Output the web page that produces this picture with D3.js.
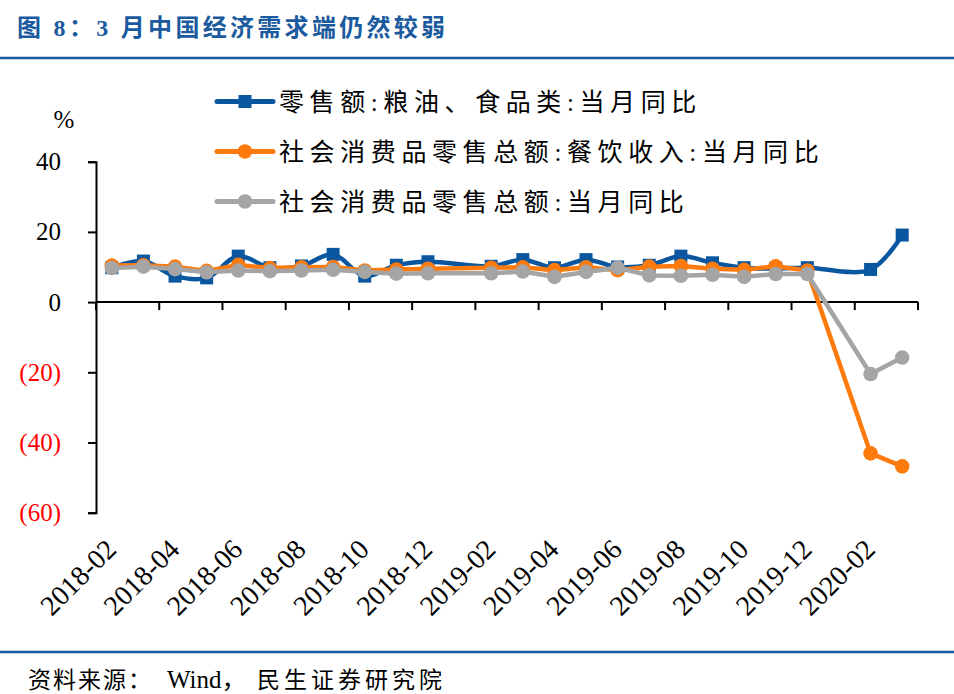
<!DOCTYPE html>
<html>
<head>
<meta charset="utf-8">
<script src="https://cdn.jsdelivr.net/npm/d3@7/dist/d3.min.js"></script>
<style>
  body { margin: 0; background: #fff; }
  svg text { font-family: "Liberation Serif", "Noto Sans CJK SC", serif; }
</style>
</head>
<body>
<svg id="chart" width="954" height="694"></svg>
<script>
var months = [
  "2018-02","2018-03","2018-04","2018-05","2018-06","2018-07","2018-08","2018-09","2018-10","2018-11","2018-12",
  "2019-01","2019-02","2019-03","2019-04","2019-05","2019-06","2019-07","2019-08","2019-09","2019-10","2019-11","2019-12",
  "2020-01","2020-02","2020-03"
];
// January is folded into February in the source, so it has no value
var grainFood   = [9.8, 11.7, 7.4, 6.9, 13.1, 9.8, 10.3, 13.6, 7.4, 10.5, 11.5, null, 10.2, 12.1, 9.8, 12.1, 10.0, 10.5, 13.1, 11.2, 9.8, 9.6, 9.8, null, 9.3, 19.1];
var catering    = [10.4, 10.5, 10.1, 8.9, 10.6, 9.7, 9.9, 10.0, 9.0, 9.3, 9.5, null, 9.8, 9.9, 9.1, 9.9, 9.1, 10.1, 10.3, 9.5, 9.2, 10.2, 9.0, null, -43.1, -46.8];
var retailTotal = [9.7, 10.1, 9.4, 8.5, 9.0, 8.8, 9.0, 9.2, 8.6, 8.1, 8.2, null, 8.2, 8.7, 7.2, 8.6, 9.8, 7.6, 7.5, 7.8, 7.2, 8.0, 8.0, null, -20.5, -15.8];
var yTicks = [-60, -40, -20, 0, 20, 40];
var seriesNames = ["零售额:粮油、食品类:当月同比", "社会消费品零售总额:餐饮收入:当月同比", "社会消费品零售总额:当月同比"];

var blue = "#0a57a0", orange = "#fd7a0c", grey = "#a5a5a5";

var svg = d3.select("#chart");

// title + rules
svg.append("text")
  .attr("x", 17).attr("y", 36)
  .attr("fill", "#1a5a9e")
  .attr("font-size", 24).attr("font-weight", "bold")
  .attr("letter-spacing", 3.3)
  .text("图 8：3 月中国经济需求端仍然较弱");
svg.append("line").attr("x1", 0).attr("x2", 954).attr("y1", 58).attr("y2", 58)
  .attr("stroke", "#1a5a9e").attr("stroke-width", 2.5);
svg.append("line").attr("x1", 0).attr("x2", 954).attr("y1", 652).attr("y2", 652)
  .attr("stroke", "#1a5a9e").attr("stroke-width", 2.5);

// source line
var src = svg.append("g").attr("class", "source").attr("font-size", 23);
src.append("text").attr("x", 28).attr("y", 688).attr("letter-spacing", 2).text("资料来源：");
src.append("text").attr("x", 167).attr("y", 688).attr("font-size", 25).text("Wind，");
src.append("text").attr("x", 257).attr("y", 688).attr("letter-spacing", 4).text("民生证券研究院");

var xScale = d3.scaleBand().domain(months).range([96, 918]).padding(0);
var yScale = d3.scaleLinear().domain([-60, 40]).range([512.7, 161.7]);
var xc = d => xScale(d) + xScale.bandwidth() / 2;

// y axis
var yAxis = d3.axisLeft(yScale)
  .tickValues(yTicks)
  .tickSize(8)
  .tickPadding(27)
  .tickFormat(d => d < 0 ? "(" + (-d) + ")" : d);

var gy = svg.append("g")
  .attr("class", "y axis")
  .attr("transform", "translate(" + xScale.range()[0] + ",0)")
  .call(yAxis);
gy.select(".domain").attr("stroke", "#000").attr("stroke-width", 2);
gy.selectAll(".tick line").attr("stroke", "#000").attr("stroke-width", 2);
gy.selectAll(".tick text")
  .attr("font-size", 25)
  .attr("font-family", "Liberation Serif")
  .attr("fill", d => d < 0 ? "#ff0000" : "#000");

svg.append("text")
  .attr("x", 64).attr("y", 128)
  .attr("text-anchor", "middle")
  .attr("font-size", 25)
  .text("%");

// x axis on zero line, ticks every two months at band edges
var xTickPos = months.filter((m, i) => i % 2 == 0).map(m => xScale(m)).concat([xScale.range()[1]]);
var gx = svg.append("g").attr("class", "x axis");
gx.append("line")
  .attr("x1", xScale.range()[0]).attr("x2", xScale.range()[1])
  .attr("y1", yScale(0)).attr("y2", yScale(0))
  .attr("stroke", "#000").attr("stroke-width", 2);
gx.selectAll("line.tick")
  .data(xTickPos)
  .enter().append("line")
  .attr("class", "tick")
  .attr("x1", d => d).attr("x2", d => d)
  .attr("y1", yScale(0)).attr("y2", yScale(0) + 8)
  .attr("stroke", "#000").attr("stroke-width", 2);

svg.selectAll("text.xlabel")
  .data(months.filter((m, i) => i % 2 == 0))
  .enter().append("text")
  .attr("class", "xlabel")
  .attr("text-anchor", "end")
  .attr("font-size", 28)
  .attr("transform", d => "translate(" + (xc(d) + 6) + ",551) rotate(-45)")
  .text(d => d);

// series
var series = [
  { name: seriesNames[0], values: grainFood, color: blue, marker: "square", curve: d3.curveCatmullRom.alpha(0.5) },
  { name: seriesNames[1], values: catering, color: orange, marker: "circle", curve: d3.curveLinear },
  { name: seriesNames[2], values: retailTotal, color: grey, marker: "circle", curve: d3.curveLinear }
];

function drawMarker(g, s, x, y) {
  if (s.marker == "square") {
    g.append("rect")
      .attr("x", x - 6.5).attr("y", y - 6.5)
      .attr("width", 13).attr("height", 13)
      .attr("fill", s.color);
  } else {
    g.append("circle")
      .attr("cx", x).attr("cy", y).attr("r", 7.3)
      .attr("fill", s.color);
  }
}

series.forEach(function (s) {
  var pts = months.map((m, i) => ({ m: m, v: s.values[i] })).filter(d => d.v !== null);
  var line = d3.line()
    .x(d => xc(d.m))
    .y(d => yScale(d.v))
    .curve(s.curve);
  var g = svg.append("g").attr("class", "series");
  g.append("path")
    .datum(pts)
    .attr("d", line)
    .attr("fill", "none")
    .attr("stroke", s.color)
    .attr("stroke-width", 4.5)
    .attr("stroke-linejoin", "round");
  pts.forEach(d => drawMarker(g, s, xc(d.m), yScale(d.v)));
});

// legend
var legendY = [101.5, 151.5, 201.5];
series.forEach(function (s, i) {
  var g = svg.append("g").attr("class", "legend");
  g.append("line")
    .attr("x1", 217).attr("x2", 273)
    .attr("y1", legendY[i]).attr("y2", legendY[i])
    .attr("stroke", s.color).attr("stroke-width", 5).attr("stroke-linecap", "round");
  drawMarker(g, s, 245, legendY[i]);
  g.append("text")
    .attr("x", 279).attr("y", legendY[i] + 9)
    .attr("font-size", 25)
    .attr("letter-spacing", 5.6)
    .text(s.name);
});
</script>
</body>
</html>
